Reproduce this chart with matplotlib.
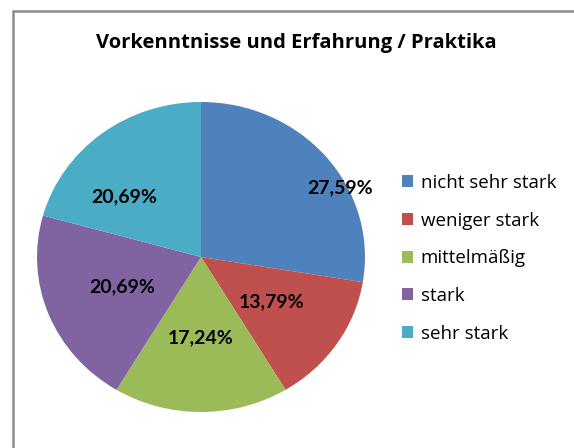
import matplotlib.pyplot as plt
from matplotlib.patches import Rectangle

categories = ['nicht sehr stark', 'weniger stark', 'mittelmäßig', 'stark', 'sehr stark']
values = [27.59, 13.79, 17.24, 20.69, 20.69]
colors = ['#4F81BD', '#C0504D', '#9BBB59', '#8064A2', '#4BACC6']
# label positions Excel chose for the first and last slice (in pie radius units)
label_pos = {0: (0.85, 0.45), 4: (-0.47, 0.39)}

plt.rcParams['font.family'] = ['Open Sans', 'DejaVu Sans']

fig = plt.figure(figsize=(5.74, 4.48), dpi=100)
W, H = 574, 448

# chart frame, running off the right and bottom edge
fig.patches.append(Rectangle((13 / W, -0.1), 1.1, (H - 11) / H + 0.1,
                             transform=fig.transFigure, fill=False,
                             edgecolor='#8c8c8c', linewidth=1.8))

# the pie in the original is slightly wider than tall
ax = fig.add_axes([37 / W, 36 / H, 328 / W, 310 / H])
wedges, texts, autotexts = ax.pie(values, colors=colors, startangle=90, counterclock=False,
                                  autopct=lambda p: f'{p:.2f}%'.replace('.', ','),
                                  pctdistance=0.52, radius=1.0,
                                  wedgeprops=dict(linewidth=0),
                                  textprops=dict(fontsize=14, fontweight='bold', color='black',
                                                 family=['Lato', 'DejaVu Sans']))
for i, pos in label_pos.items():
    autotexts[i].set_position(pos)
ax.set_aspect('auto')
ax.set_xlim(-1.0, 1.0)
ax.set_ylim(-1.0, 1.0)

fig.text(296 / W, 1 - 43 / H, 'Vorkenntnisse und Erfahrung / Praktika',
         ha='center', va='center', fontsize=14.5, fontweight='bold')

leg = fig.legend(wedges, categories, loc='upper left', bbox_to_anchor=(385 / W, 1 - 157 / H),
                 frameon=False, fontsize=13.5, handlelength=0.6, handleheight=0.6,
                 handletextpad=0.4, labelspacing=1.05)

fig.savefig('out.png', dpi=100)
